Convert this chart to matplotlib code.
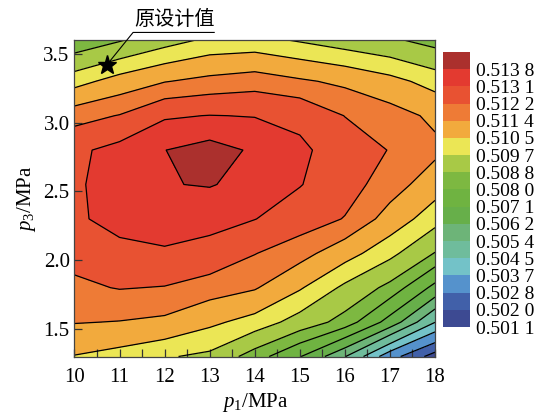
import numpy as np
import matplotlib
matplotlib.use('Agg')
import matplotlib.pyplot as plt

plt.rcParams['font.family'] = ['Liberation Serif', 'DejaVu Serif']
plt.rcParams['mathtext.fontset'] = 'custom'
plt.rcParams['mathtext.rm'] = 'Liberation Serif'
plt.rcParams['mathtext.it'] = 'Liberation Serif:italic'

# grid: p1 (MPa) along x, p3 (MPa) along y
p1 = [10, 11, 12, 13, 14, 15, 16, 17, 18]
p3 = [1.30, 1.55, 1.80, 2.05, 2.30, 2.55, 2.80, 3.05, 3.30, 3.60]

# efficiency values, one row per p3 value
eff = [
    [0.51046, 0.51018, 0.50978, 0.50952, 0.50840, 0.50715, 0.50544, 0.50316, 0.50164],
    [0.51144, 0.51137, 0.51122, 0.51068, 0.51018, 0.50934, 0.50848, 0.50674, 0.50452],
    [0.51204, 0.51224, 0.51216, 0.51180, 0.51148, 0.51059, 0.50952, 0.50856, 0.50683],
    [0.51247, 0.51292, 0.51301, 0.51283, 0.51223, 0.51172, 0.51086, 0.50994, 0.50876],
    [0.51300, 0.51331, 0.51345, 0.51335, 0.51312, 0.51265, 0.51216, 0.51104, 0.51002],
    [0.51297, 0.51349, 0.51377, 0.51384, 0.51359, 0.51314, 0.51256, 0.51180, 0.51091],
    [0.51292, 0.51338, 0.51379, 0.51408, 0.51370, 0.51324, 0.51274, 0.51216, 0.51160],
    [0.51188, 0.51224, 0.51301, 0.51312, 0.51307, 0.51292, 0.51218, 0.51176, 0.51122],
    [0.51018, 0.51086, 0.51136, 0.51164, 0.51184, 0.51152, 0.51122, 0.51077, 0.51018],
    [0.50816, 0.50872, 0.50934, 0.50986, 0.50994, 0.50961, 0.50925, 0.50894, 0.50848],
]

levels = [0.5011, 0.5020, 0.5028, 0.5037, 0.5045, 0.5054, 0.5062, 0.5071,
          0.5080, 0.5088, 0.5097, 0.5105, 0.5114, 0.5122, 0.5131, 0.5138, 0.5146]
level_labels = ['0.501 1', '0.502 0', '0.502 8', '0.503 7', '0.504 5', '0.505 4',
                '0.506 2', '0.507 1', '0.508 0', '0.508 8', '0.509 7', '0.510 5',
                '0.511 4', '0.512 2', '0.513 1', '0.513 8']
band_colors = ['#3d4a92', '#4160a9', '#5592cc', '#73c2c8', '#6fbc9c', '#6db478',
               '#67af4a', '#6fb341', '#7db841', '#a8c946', '#ebe655', '#f2aa3d',
               '#ee7b36', '#e85232', '#e33a30', '#ab302d']

design_p1, design_p3 = 10.72, 3.42

fig = plt.figure(figsize=(5.41, 4.18), dpi=100)
ax = fig.add_axes([0.1377, 0.1471, 0.6664, 0.7572])

X, Y = np.meshgrid(p1, p3)
Z = np.array(eff)
cf = ax.contourf(X, Y, Z, levels=levels, colors=band_colors)
ax.contour(X, Y, Z, levels=levels, colors='k', linewidths=0.9)

ax.set_xlim(10, 18)
ax.set_ylim(1.3, 3.6)
ax.set_xticks(np.arange(10, 18.1, 1))
ax.set_xticks(np.arange(10.5, 18, 1), minor=True)
ax.set_yticks([1.5, 2.0, 2.5, 3.0, 3.5])
ax.set_yticklabels(['1.5', '2.0', '2.5', '3.0', '3.5'])
ax.tick_params(which='both', direction='in', length=6, width=0.9, color='#333333',
               top=False, right=False, labelsize=15)
ax.tick_params(axis='x', pad=8)
for s in ax.spines.values():
    s.set_color('#444444')
    s.set_linewidth(0.9)

ax.set_xlabel('$p_1$/MPa', fontsize=15, labelpad=3)
ax.set_ylabel('$p_3$/MPa', fontsize=15, labelpad=4)

# design point with leader line
ax.plot(design_p1, design_p3, marker='*', ms=14, color='black', zorder=5)
ax.plot([design_p1, 11.3, 13.1], [design_p3, 3.655, 3.655], color='black',
        lw=0.8, clip_on=False, zorder=5)
ax.text(12.22, 3.67, '原设计值', fontsize=14.5, ha='center', va='bottom',
        family=['Noto Sans CJK SC', 'DejaVu Sans'])

cax = fig.add_axes([0.819, 0.2177, 0.050, 0.658])
cb = fig.colorbar(cf, cax=cax, ticks=levels[:-1])
cb.set_ticklabels(level_labels)
cb.outline.set_visible(False)
cax.tick_params(length=0, labelsize=14, pad=4)

fig.savefig('out.png', dpi=100)
